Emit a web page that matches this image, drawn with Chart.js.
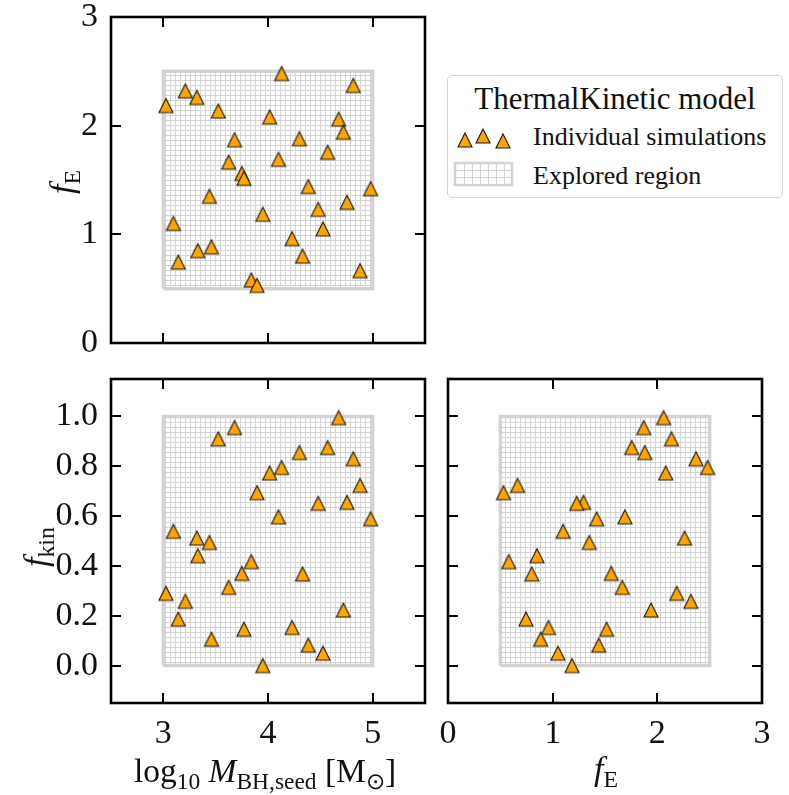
<!DOCTYPE html>
<html><head><meta charset="utf-8">
<script src="https://cdn.jsdelivr.net/npm/chart.js@4.4.0/dist/chart.umd.min.js"></script>
<style>
html,body{margin:0;padding:0;background:#fff;}
#wrap{position:relative;width:789px;height:795px;overflow:hidden;font-family:"Liberation Serif",serif;color:#111;}
canvas{position:absolute;}
.t{position:absolute;font-family:"Liberation Serif",serif;white-space:nowrap;line-height:1;color:#111;}
.t sub{font-size:70%;vertical-align:baseline;position:relative;top:0.3em;}
.rot{transform:translate(-50%,-50%) rotate(-90deg);}
.ctr{transform:translate(-50%,-50%);}
</style></head>
<body><div id="wrap">
<canvas id="cTL" width="440" height="390" style="left:0;top:-15px;"></canvas>
<canvas id="cBL" width="440" height="448" style="left:0;top:347px;"></canvas>
<canvas id="cBR" width="364" height="448" style="left:425px;top:347px;"></canvas>

<div class="t rot" style="left:62px;top:182px;font-size:34px;"><i>f</i><sub>E</sub></div>
<div class="t rot" style="left:36px;top:547px;font-size:34px;"><i>f</i><sub>kin</sub></div>
<div class="t ctr" style="left:265px;top:771px;font-size:33.5px;">log<sub>10</sub> <i>M</i><sub>BH,seed</sub> [M<sub>&#x2299;</sub>]</div>
<div class="t ctr" style="left:606px;top:769px;font-size:34px;"><i>f</i><sub>E</sub></div>

<div id="legend" style="position:absolute;left:447px;top:75px;width:336px;height:123px;border:1px solid #d4d4d4;border-radius:5px;box-sizing:border-box;background:#fff;">
  <div class="t" style="left:0;right:0;top:7px;text-align:center;font-size:31px;">ThermalKinetic model</div>
  <div class="t" style="left:85px;top:48px;font-size:26px;">Individual simulations</div>
  <div class="t" style="left:85px;top:87px;font-size:26px;">Explored region</div>
</div>
<canvas id="legTri" width="66" height="34" style="left:450px;top:122px;"></canvas>
<canvas id="legHatch" width="62" height="28" style="left:452px;top:160px;"></canvas>
</div>
<script>
// ---- data: one entry per simulation ----
const logMseed = [4.13,4.815,3.21,3.32,3.025,3.525,4.016,4.675,4.72,3.68,4.30,4.57,3.624,4.10,3.75,3.77,4.385,4.98,3.44,4.755,4.48,3.95,3.096,4.525,4.23,3.46,3.33,4.33,3.143,4.88,3.84,3.895];
const fE       = [2.48,2.37,2.32,2.26,2.185,2.135,2.08,2.06,1.94,1.87,1.88,1.755,1.665,1.69,1.56,1.515,1.44,1.42,1.35,1.295,1.23,1.185,1.10,1.05,0.96,0.885,0.85,0.80,0.745,0.665,0.58,0.53];
const fKin     = [0.795,0.83,0.258,0.512,0.29,0.91,0.773,0.995,0.223,0.955,0.855,0.875,0.314,0.597,0.37,0.146,0.082,0.589,0.494,0.655,0.651,0.0,0.539,0.05,0.153,0.106,0.441,0.368,0.187,0.723,0.417,0.694];
// explored parameter ranges
const regionLogM = [3, 5];
const regionFE   = [0.5, 2.5];
const regionFKin = [0, 1];
// tick values
const ticksLogM = [3, 4, 5];
const ticksFE   = [0, 1, 2, 3];
const ticksFKin = [0, 0.2, 0.4, 0.6, 0.8, 1.0];

const ORANGE = '#FFA500';
const GREY = '#d3d3d3';

function makeTri(size){
  const p = 2, c = document.createElement('canvas');
  c.width = c.height = size + 2*p;
  const g = c.getContext('2d');
  g.beginPath(); g.moveTo(c.width/2, p); g.lineTo(c.width-p, c.height-p); g.lineTo(p, c.height-p); g.closePath();
  g.fillStyle = ORANGE; g.fill(); g.lineWidth = 1.1; g.strokeStyle = '#1a1a1a'; g.stroke();
  return c;
}
const tri = makeTri(14);

function hatchPattern(ctx, step){
  const c = document.createElement('canvas'); c.width = c.height = step;
  const g = c.getContext('2d');
  g.fillStyle = '#fff'; g.fillRect(0,0,step,step);
  g.fillStyle = '#d4d4d4'; g.fillRect(0,0,step,1); g.fillRect(0,0,1,step);
  return ctx.createPattern(c, 'repeat');
}

function rectPts(xr, yr){
  return [{x:xr[0],y:yr[0]},{x:xr[1],y:yr[0]},{x:xr[1],y:yr[1]},{x:xr[0],y:yr[1]},{x:xr[0],y:yr[0]}];
}
function pts(xs, ys){ return xs.map((v,i)=>({x:v, y:ys[i]})); }

const frameTicks = {
  id:'frameTicks',
  afterDraw(chart){
    const {ctx, chartArea:a, scales} = chart;
    const L = 10;
    ctx.save();
    ctx.strokeStyle = '#000'; ctx.lineWidth = 2;
    scales.x.ticks.forEach(t=>{
      const px = Math.round(scales.x.getPixelForValue(t.value));
      ctx.beginPath(); ctx.moveTo(px, a.bottom); ctx.lineTo(px, a.bottom-L);
      ctx.moveTo(px, a.top); ctx.lineTo(px, a.top+L); ctx.stroke();
    });
    scales.y.ticks.forEach(t=>{
      const py = Math.round(scales.y.getPixelForValue(t.value));
      ctx.beginPath(); ctx.moveTo(a.left, py); ctx.lineTo(a.left+L, py);
      ctx.moveTo(a.right, py); ctx.lineTo(a.right-L, py); ctx.stroke();
    });
    ctx.lineWidth = 2.6;
    ctx.strokeRect(a.left, a.top, a.right-a.left, a.bottom-a.top);
    ctx.restore();
  }
};

const tickFont = {family:'Liberation Serif', size:34, lineHeight:1};

function axis(min, max, tickVals, showLabels, fitSize, isX, fmt){
  return {
    type:'linear', min, max,
    afterBuildTicks: s => { s.ticks = tickVals.map(v=>({value:v})); },
    afterFit: s => { if (isX) s.height = fitSize; else s.width = fitSize; },
    grid:{display:false, drawTicks:false},
    border:{display:false},
    ticks:{display:showLabels, font:tickFont, color:'#111', padding: isX ? 14 : 13,
      maxRotation:0, autoSkip:false, callback: fmt || (v=>String(v))}
  };
}

function makeChart(id, xs, ys, xr, yr, xAxis, yAxis, pad){
  const ctx = document.getElementById(id).getContext('2d');
  return new Chart(ctx, {
    type:'scatter',
    data:{datasets:[
      {label:'Individual simulations', data:pts(xs, ys), pointStyle:tri, pointRadius:7, pointHoverRadius:7, order:0},
      {label:'Explored region', data:rectPts(xr, yr), showLine:true, fill:'shape', tension:0,
       backgroundColor:hatchPattern(ctx, 5), borderColor:GREY, borderWidth:3.5, pointRadius:0, order:1}
    ]},
    options:{
      responsive:false, animation:false, events:[],
      layout:{padding:pad},
      plugins:{legend:{display:false}, tooltip:{enabled:false}},
      scales:{x:xAxis, y:yAxis}
    },
    plugins:[frameTicks]
  });
}

const fmt1 = v => v.toFixed(1);

// TL: plot area x 111..425, y 17..343
makeChart('cTL', logMseed, fE, regionLogM, regionFE,
  axis(2.5, 5.5, ticksLogM, false, 32, true),
  axis(0, 3, ticksFE, true, 111, false),
  {top:32, right:15, left:0, bottom:0});

// BL: plot area x 111..425, y 379..703
makeChart('cBL', logMseed, fKin, regionLogM, regionFKin,
  axis(2.5, 5.5, ticksLogM, true, 92, true),
  axis(-0.15, 1.15, ticksFKin, true, 111, false, fmt1),
  {top:32, right:15, left:0, bottom:0});

// BR: plot area x 448..762, y 379..703
makeChart('cBR', fE, fKin, regionFE, regionFKin,
  axis(0, 3, ticksFE, true, 92, true),
  axis(-0.15, 1.15, ticksFKin, false, 23, false, fmt1),
  {top:32, right:27, left:0, bottom:0});

// legend icons
(function(){
  const g = document.getElementById('legTri').getContext('2d');
  const small = makeTri(14);
  [[15,18],[33,14],[53,19]].forEach(([x,y])=>g.drawImage(small, x-small.width/2, y-small.height/2));
  const h = document.getElementById('legHatch').getContext('2d');
  const x0=3, y0=3, w=57, hh=22;
  h.fillStyle='#fff'; h.fillRect(x0,y0,w,hh);
  h.strokeStyle='#d4d4d4'; h.lineWidth=1;
  for(let x=x0+8.5; x<x0+w; x+=8){ h.beginPath(); h.moveTo(Math.round(x)+0.5,y0); h.lineTo(Math.round(x)+0.5,y0+hh); h.stroke(); }
  for(let y=y0+7; y<y0+hh; y+=7){ h.beginPath(); h.moveTo(x0,Math.round(y)+0.5); h.lineTo(x0+w,Math.round(y)+0.5); h.stroke(); }
  h.strokeStyle=GREY; h.lineWidth=2.5; h.strokeRect(x0,y0,w,hh);
})();
</script>
</body></html>
